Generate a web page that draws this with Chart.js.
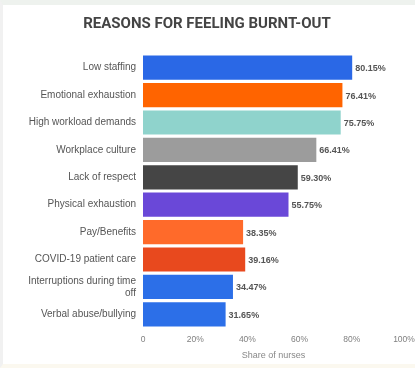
<!DOCTYPE html>
<html>
<head>
<meta charset="utf-8">
<script src="https://cdn.jsdelivr.net/npm/chart.js@4.4.0/dist/chart.umd.min.js"></script>
<style>
  html, body { margin: 0; padding: 0; background: #ffffff; }
  body { width: 415px; height: 368px; overflow: hidden; position: relative; }
  .frame { position: absolute; left: 0; top: 0; width: 415px; height: 368px;
           box-sizing: border-box; border-top: 5px solid #eef2ee; border-left: 3px solid #f1f1f1;
           border-bottom: 4px solid #fbf8ef; }
  canvas { position: absolute; left: 0; top: 0; }
</style>
</head>
<body>
<div class="frame"></div>
<canvas id="chart" width="415" height="368"></canvas>
<script>
const labels = [
  'Low staffing',
  'Emotional exhaustion',
  'High workload demands',
  'Workplace culture',
  'Lack of respect',
  'Physical exhaustion',
  'Pay/Benefits',
  'COVID-19 patient care',
  ['Interruptions during time', 'off'],
  'Verbal abuse/bullying'
];
const values = [80.15, 76.41, 75.75, 66.41, 59.30, 55.75, 38.35, 39.16, 34.47, 31.65];
const barColors = ['#2a68e6', '#ff6400', '#8fd3cc', '#9c9c9c', '#454545',
                   '#6a48d8', '#ff6a2a', '#e8491e', '#2c6fe8', '#2c6fe8'];
const xTicks = [0, 20, 40, 60, 80, 100];

// value labels at the end of each bar
const valueLabels = {
  id: 'valueLabels',
  afterDatasetsDraw(chart) {
    const ctx = chart.ctx;
    const meta = chart.getDatasetMeta(0);
    ctx.save();
    ctx.font = 'bold 9px "Liberation Sans", Arial, sans-serif';
    ctx.fillStyle = '#555555';
    ctx.textAlign = 'left';
    ctx.textBaseline = 'middle';
    meta.data.forEach((bar, i) => {
      ctx.fillText(values[i].toFixed(2) + '%', bar.x + 3, bar.y + 1);
    });
    ctx.restore();
  }
};

new Chart(document.getElementById('chart'), {
  type: 'bar',
  data: {
    labels: labels,
    datasets: [{
      data: values,
      backgroundColor: barColors,
      borderWidth: 0,
      barPercentage: 0.98,
      categoryPercentage: 0.9
    }]
  },
  plugins: [valueLabels],
  options: {
    indexAxis: 'y',
    responsive: false,
    animation: false,
    layout: { padding: { top: 0, right: 11, bottom: 0, left: 10 } },
    plugins: {
      legend: { display: false },
      tooltip: { enabled: false },
      title: {
        display: true,
        text: 'REASONS FOR FEELING BURNT-OUT',
        color: '#444444',
        font: { family: 'Roboto, sans-serif', size: 15, weight: 'bold' },
        padding: { top: 15, bottom: 21 }
      }
    },
    scales: {
      x: {
        min: 0,
        max: 100,
        afterBuildTicks(scale) { scale.ticks = xTicks.map(v => ({ value: v })); },
        afterFit(scale) {
          scale.height = 40;
          scale.paddingLeft = 0;
          scale.paddingRight = 0;
        },
        grid: { display: false, drawTicks: false },
        border: { display: false },
        ticks: {
          padding: 7,
          color: '#808080',
          font: { family: '"Liberation Sans", Arial, sans-serif', size: 8.5 },
          callback: v => v === 0 ? '0' : v + '%'
        },
        title: {
          display: true,
          text: 'Share of nurses',
          color: '#888888',
          font: { family: '"Liberation Sans", Arial, sans-serif', size: 9 },
          padding: { top: 4, bottom: 7 }
        }
      },
      y: {
        afterFit(scale) { scale.width = 133; },
        grid: { display: false, drawTicks: false },
        border: { display: false },
        ticks: {
          padding: 7,
          color: '#555555',
          font: { family: '"Liberation Sans", Arial, sans-serif', size: 10 }
        }
      }
    }
  }
});
</script>
</body>
</html>
